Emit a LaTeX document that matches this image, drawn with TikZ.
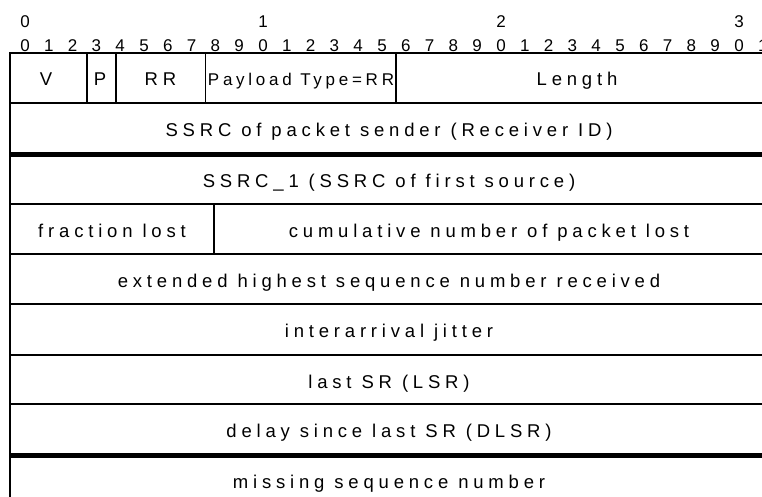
\documentclass[tikz,border=0pt]{standalone}
\usepackage{fontspec}
\setmainfont{Liberation Sans}
\newfontfamily\lsfont[LetterSpace=26]{Liberation Sans}
\newfontfamily\ptfont[LetterSpace=22]{Liberation Sans}
\begin{document}
\begin{tikzpicture}[x=1pt,y=-1pt,
  rule/.style={line width=1.8pt},
  heavyrule/.style={line width=5pt},
  lbl/.style={anchor=base, inner sep=0pt, font=\fontsize{18.5}{21}\lsfont},
  ptlbl/.style={anchor=base, inner sep=0pt, font=\fontsize{17}{20}\ptfont},
  digit/.style={anchor=base, inner sep=0pt, font=\fontsize{17}{20}\selectfont}]
\useasboundingbox (0,0) rectangle (762,497);
\clip (0,0) rectangle (762,497);
\fill[white] (0,0) rectangle (762,497);
% bit numbers
\foreach \k in {0,...,31}{
  \pgfmathtruncatemacro{\d}{mod(\k,10)}
  \node[digit] (d\k) at ({25+23.8*\k},51.5) {\d};
}
\node[digit] (t0) at (25,28) {0};
\node[digit] (t1) at ({25+23.8*10},28) {1};
\node[digit] (t2) at ({25+23.8*20},28) {2};
\node[digit] (t3) at ({25+23.8*30},28) {3};
% frame
\draw[rule] (10,53) -- (790,53);
\draw[rule] (10,52.1) -- (10,510);
\foreach \y in {103,204,254,304,355,404}{
  \draw[rule] (10,\y) -- (790,\y);
}
\draw[heavyrule] (10,154.5) -- (790,154.5);
\draw[heavyrule] (10,455.5) -- (790,455.5);
% field separators
\draw[rule] (87,53) -- (87,103);
\draw[rule] (116,53) -- (116,103);
\draw[rule] (205.5,53) -- (205.5,103);
\draw[rule] (396,53) -- (396,103);
\draw[rule] (214,204) -- (214,254);
% labels
\node[lbl] (v) at (46,86) {V};
\node[lbl] (p) at (100,86) {P};
\node[lbl] (rr) at (160.5,86) {RR};
\node[ptlbl] (pt) at (301,86) {Payload Type=RR};
\node[lbl] (len) at (577,86) {Length};
\node[lbl] (ssrc) at (389,137) {SSRC of packet sender (Receiver ID)};
\node[lbl] (ssrc1) at (389,187.5) {SSRC\_1 (SSRC of first source)};
\node[lbl] (frac) at (112,237) {fraction lost};
\node[lbl] (cum) at (489,237) {cumulative number of packet lost};
\node[lbl] (ext) at (389,287.5) {extended highest sequence number received};
\node[lbl] (jit) at (389,337.5) {interarrival jitter};
\node[lbl] (lsr) at (389,388) {last SR (LSR)};
\node[lbl] (dlsr) at (389,437) {delay since last SR (DLSR)};
\node[lbl] (miss) at (389,488) {missing sequence number};
\end{tikzpicture}
\end{document}
